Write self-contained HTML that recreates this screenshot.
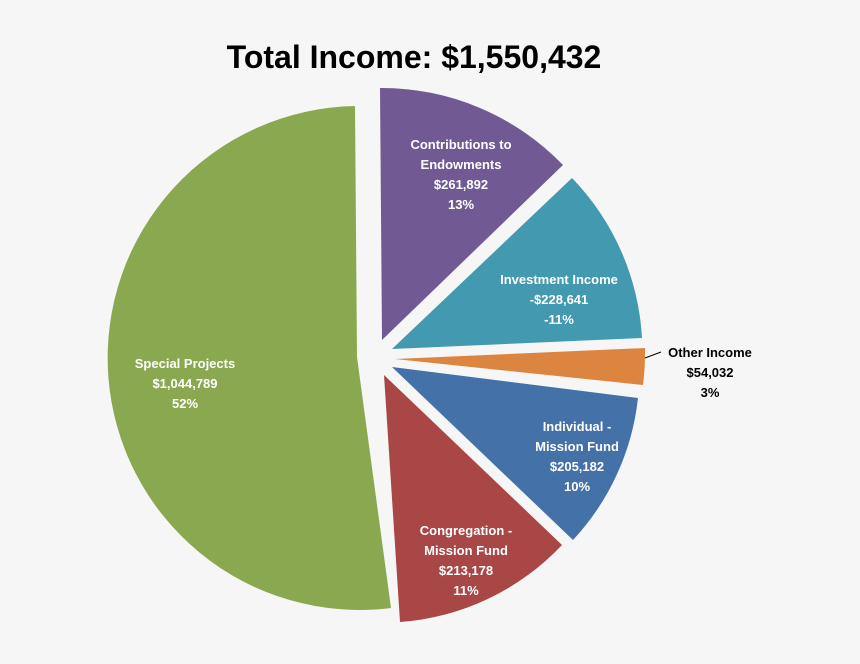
<!DOCTYPE html>
<html><head><style>
html,body{margin:0;padding:0;background:#f6f6f6;}
svg{display:block;}
text{font-family:"Liberation Sans",Arial,sans-serif;font-weight:bold;}
</style></head><body>
<svg width="860" height="664" viewBox="0 0 860 664">
<rect width="860" height="664" fill="#f6f6f6"/>
<text x="414" y="68" font-size="32" text-anchor="middle" fill="#000">Total Income: $1,550,432</text>
<path d="M357,357 L391,608 A252,252 0 1 1 355,106 Z" fill="#8aa84f"/>
<path d="M382,340 L380,88 A252,252 0 0 1 563,165 Z" fill="#715a93"/>
<path d="M392,349 L572,178 A250,250 0 0 1 642,338 Z" fill="#4399b0"/>
<path d="M395,359 L645,348 A250,250 0 0 1 643,385 Z" fill="#dc8540"/>
<path d="M392,367 L638,398 A248,248 0 0 1 573,540 Z" fill="#4471a8"/>
<path d="M384,375 L562,545 A247,247 0 0 1 400,622 Z" fill="#a84745"/>
<g font-size="13" fill="#fff" text-anchor="middle">
<text x="185" y="368">Special Projects</text>
<text x="185" y="388">$1,044,789</text>
<text x="185" y="408">52%</text>
<text x="461" y="149">Contributions to</text>
<text x="461" y="169">Endowments</text>
<text x="461" y="189">$261,892</text>
<text x="461" y="209">13%</text>
<text x="559" y="284">Investment Income</text>
<text x="559" y="304">-$228,641</text>
<text x="559" y="324">-11%</text>
<text x="577" y="431">Individual -</text>
<text x="577" y="451">Mission Fund</text>
<text x="577" y="471">$205,182</text>
<text x="577" y="491">10%</text>
<text x="466" y="535">Congregation -</text>
<text x="466" y="555">Mission Fund</text>
<text x="466" y="575">$213,178</text>
<text x="466" y="595">11%</text>
</g>
<g font-size="13" fill="#000" text-anchor="middle">
<text x="710" y="357">Other Income</text>
<text x="710" y="377">$54,032</text>
<text x="710" y="397">3%</text>
</g>
<line x1="645" y1="358" x2="661" y2="352" stroke="#000" stroke-width="1"/>
</svg>
</body></html>
